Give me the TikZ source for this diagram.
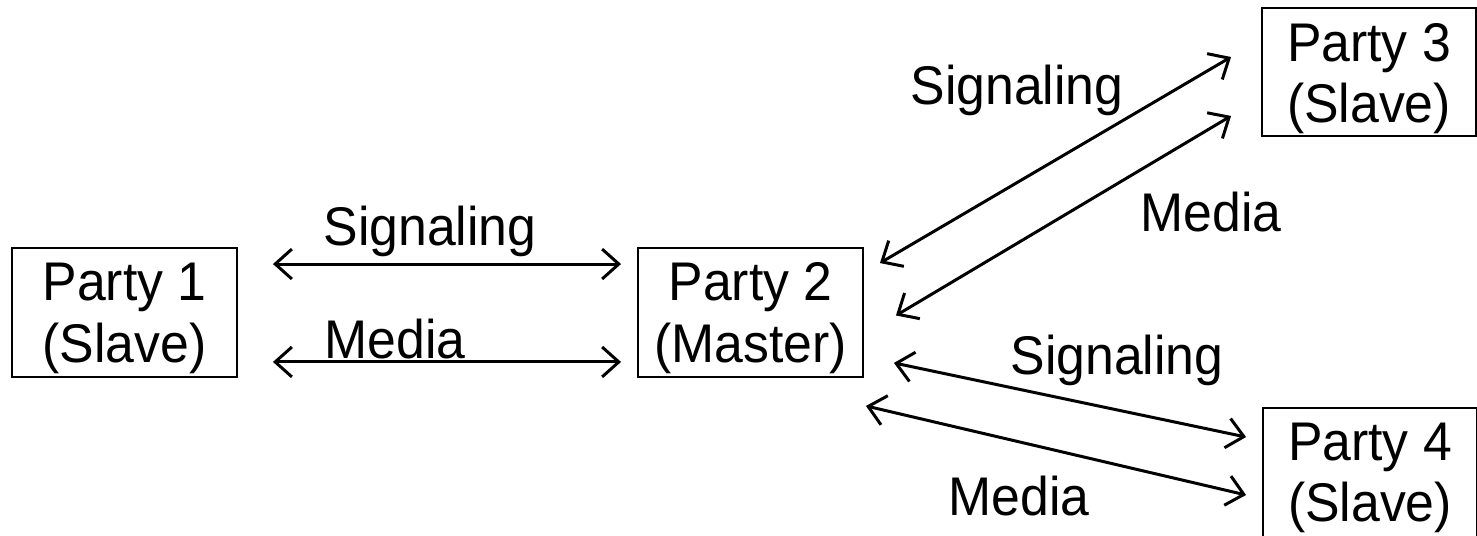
\documentclass[tikz,border=0pt]{standalone}
\usepackage{fontspec}
\setmainfont[FakeStretch=0.95]{Liberation Sans}
\usetikzlibrary{arrows.meta,calc}
\begin{document}
\begin{tikzpicture}[x=0.02cm,y=-0.02cm,
  party/.style={draw,line width=1.1pt,align=center,inner sep=0pt,
    font=\fontsize{31}{35}\selectfont},
  lbl/.style={anchor=base,inner sep=0pt,font=\fontsize{31}{35}\selectfont},
  link/.style={line width=1.7pt,{Straight Barb[length=9.5pt,width=17pt]}-{Straight Barb[length=9.5pt,width=17pt]}}]
\useasboundingbox (0,0) rectangle (1477,536);
\node[party,minimum width=4.5cm,minimum height=2.58cm] (p1) at (124.5,312.5) {\rule{0pt}{28pt}Party 1\\(Slave)};
\node[party,minimum width=4.5cm,minimum height=2.58cm] (p2) at (750.5,312.5) {\rule{0pt}{28pt}Party 2\\(Master)};
\node[party,minimum width=4.28cm,minimum height=2.56cm] (p3) at (1369,72) {\rule{0pt}{29pt}Party 3\\(Slave)};
\node[party,minimum width=4.28cm,minimum height=2.64cm] (p4) at (1370,474) {\rule{0pt}{26pt}Party 4\\(Slave)};
% Party 1 - Party 2
\draw[link] ($(p1.north east)+(35,17)$) -- ($(p2.north west)+(-16,17)$);
\draw[link] ($(p1.south east)+(35,-16)$) -- ($(p2.south west)+(-16,-16)$);
\node[lbl] (s12) at (430,246) {Signaling};
\node[lbl] (m12) at (395,359) {Media};
% Party 2 - Party 3
\draw[link] ($(p2.north east)+(16,16)$) -- ($(p3.west)+(-30,-15)$);
\draw[link] ($(p2.east)+(32,3)$) -- ($(p3.south west)+(-30,-21)$);
\node[lbl] (s23) at (1017,105) {Signaling};
\node[lbl] (m23) at (1211,232) {Media};
% Party 2 - Party 4
\draw[link] ($(p2.south east)+(30,-15)$) -- ($(p4.north west)+(-16,30)$);
\draw[link] ($(p2.south east)+(2,28)$) -- ($(p4.west)+(-16,21)$);
\node[lbl] (s24) at (1117,375) {Signaling};
\node[lbl] (m24) at (1019,516) {Media};
\end{tikzpicture}
\end{document}
